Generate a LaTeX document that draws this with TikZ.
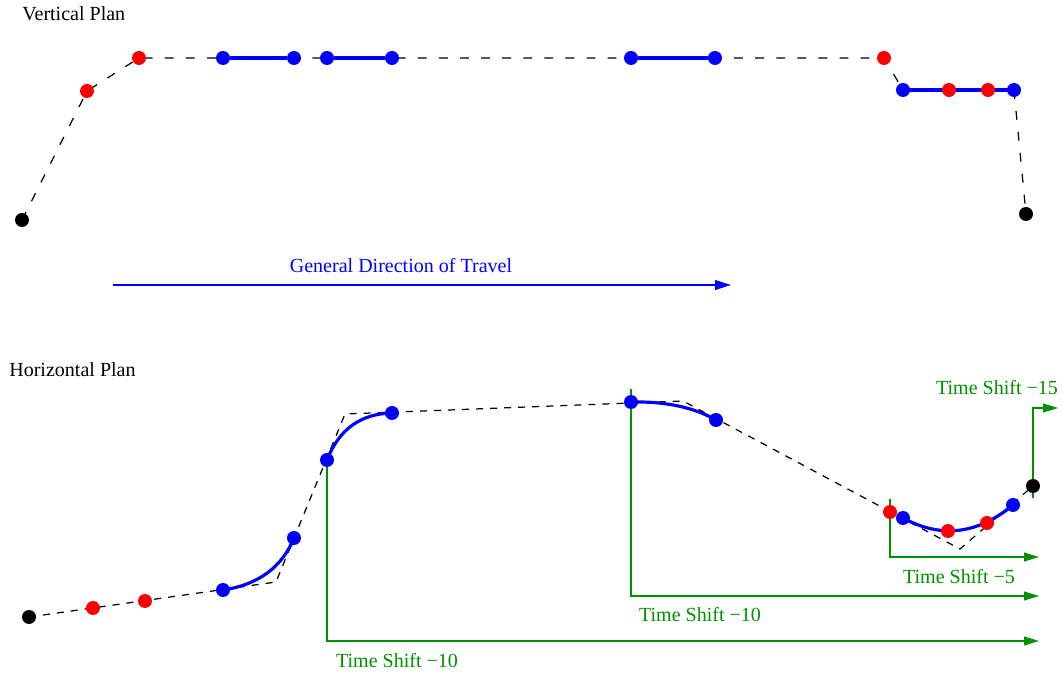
\documentclass[tikz,border=0pt]{standalone}
\usepackage{fontspec}
\setmainfont{Liberation Serif}
\usepackage{tikz}
\usetikzlibrary{arrows.meta, positioning, calc, backgrounds}
\definecolor{pathblue}{HTML}{0000FF}
\definecolor{pointred}{HTML}{FF0000}
\definecolor{shiftgreen}{HTML}{009000}

\begin{document}
\begin{tikzpicture}[x=0.02cm, y=-0.02cm,
    every node/.style={font=\fontsize{11.4}{13}\selectfont},
    dot/.style={circle, fill=#1, inner sep=0pt, minimum size=0.28cm},
    guide/.style={black, line width=0.7pt, dash pattern=on 5pt off 7pt},
    guidefine/.style={black, line width=0.7pt, dash pattern=on 4pt off 4pt},
    route/.style={pathblue, line width=1.8pt},
    travel/.style={pathblue, line width=0.9pt, -{Triangle[length=9pt, width=5.5pt]}},
    timeshift/.style={shiftgreen, line width=0.9pt, -{Triangle[length=8.5pt, width=5pt]}}]
    \useasboundingbox (0,0) rectangle (1063,675);
    % Vertical plan
    \node[anchor=west, inner sep=0pt] (vtitle) at (22,14) {Vertical Plan};
    \foreach \n/\c/\x/\y in {vk1/black/22/220, vr1/pointred/87/91, vr2/pointred/139/58,
        vb1/pathblue/223/58, vb2/pathblue/294/58, vb3/pathblue/327/58, vb4/pathblue/392/58,
        vb5/pathblue/631/58, vb6/pathblue/715/58, vr3/pointred/884/58,
        vb7/pathblue/903/90, vr4/pointred/949/90, vr5/pointred/988/90, vb8/pathblue/1014/90,
        vk2/black/1026/214}
        \node[dot=\c] (\n) at (\x,\y) {};
    \begin{scope}[on background layer]
        \draw[guide] (vk1.center) -- (vr1.center) -- (vr2.center) -- (vr3.center) -- (vb7.center);
        \draw[guide] (vb8.center) -- (vk2.center);
        \draw[route] (vb1) -- (vb2);
        \draw[route] (vb3) -- (vb4);
        \draw[route] (vb5) -- (vb6);
        \draw[route] (vb7.center) -- (vb8.center);
    \end{scope}
    % Direction of travel
    \coordinate (dirA) at (113,285);
    \coordinate (dirB) at (731,285);
    \draw[travel] (dirA) -- (dirB);
    \node[pathblue] (dirlabel) at (401,266) {General Direction of Travel};
    % Horizontal plan
    \node[anchor=west, inner sep=0pt] (htitle) at (9,370) {Horizontal Plan};
    \foreach \n/\c/\x/\y in {hk1/black/29/617, hr1/pointred/93/608, hr2/pointred/145/601,
        hb1/pathblue/223/590, hb2/pathblue/294/538, hb3/pathblue/327/460, hb4/pathblue/392/413,
        hb5/pathblue/631/402, hb6/pathblue/716/420, hr3/pointred/890/512,
        hb7/pathblue/903/518, hr4/pointred/948/531, hr5/pointred/987/523, hb8/pathblue/1013/505,
        hk2/black/1033/486}
        \node[dot=\c] (\n) at (\x,\y) {};
    \coordinate (hc1) at (276,582);
    \coordinate (hc2) at (345,414);
    \coordinate (hc3) at (683,401);
    \coordinate (hc4) at (960,549);
    \begin{scope}[on background layer]
        \draw[guidefine] (hk1.center) -- (hc1) -- (hc2) -- (hc3) -- (hc4) -- (hk2.center);
        \draw[route] (hb1.center) .. controls ($(hb1.center)!0.667!(hc1)$) and ($(hb2.center)!0.667!(hc1)$) .. (hb2.center);
        \draw[route] (hb3.center) .. controls ($(hb3.center)!0.667!(hc2)$) and ($(hb4.center)!0.667!(hc2)$) .. (hb4.center);
        \draw[route] (hb5.center) .. controls ($(hb5.center)!0.667!(hc3)$) and ($(hb6.center)!0.667!(hc3)$) .. (hb6.center);
        \draw[route] (hb7.center) .. controls ($(hb7.center)!0.667!(hc4)$) and ($(hb8.center)!0.667!(hc4)$) .. (hb8.center);
        % Time shifts
        \coordinate (t10aend) at (1039,641);
        \draw[timeshift] (hb3.center) |- (t10aend);
        \coordinate (t10btop) at (631,389);
        \coordinate (t10bend) at (1039,596);
        \draw[timeshift] (t10btop) |- (t10bend);
        \coordinate (t5top) at (890,499);
        \coordinate (t5end) at (1039,557);
        \draw[timeshift] (t5top) |- (t5end);
        \coordinate (t15bot) at (1033,498);
        \coordinate (t15end) at (1058,408);
        \draw[timeshift] (t15bot) |- (t15end);
    \end{scope}
    \node[shiftgreen] (t10alabel) at (397,661) {Time Shift −10};
    \node[shiftgreen] (t10blabel) at (700,615) {Time Shift −10};
    \node[shiftgreen] (t5label) at (959,577) {Time Shift −5};
    \node[shiftgreen] (t15label) at (997,388) {Time Shift −15};
\end{tikzpicture}
\end{document}
